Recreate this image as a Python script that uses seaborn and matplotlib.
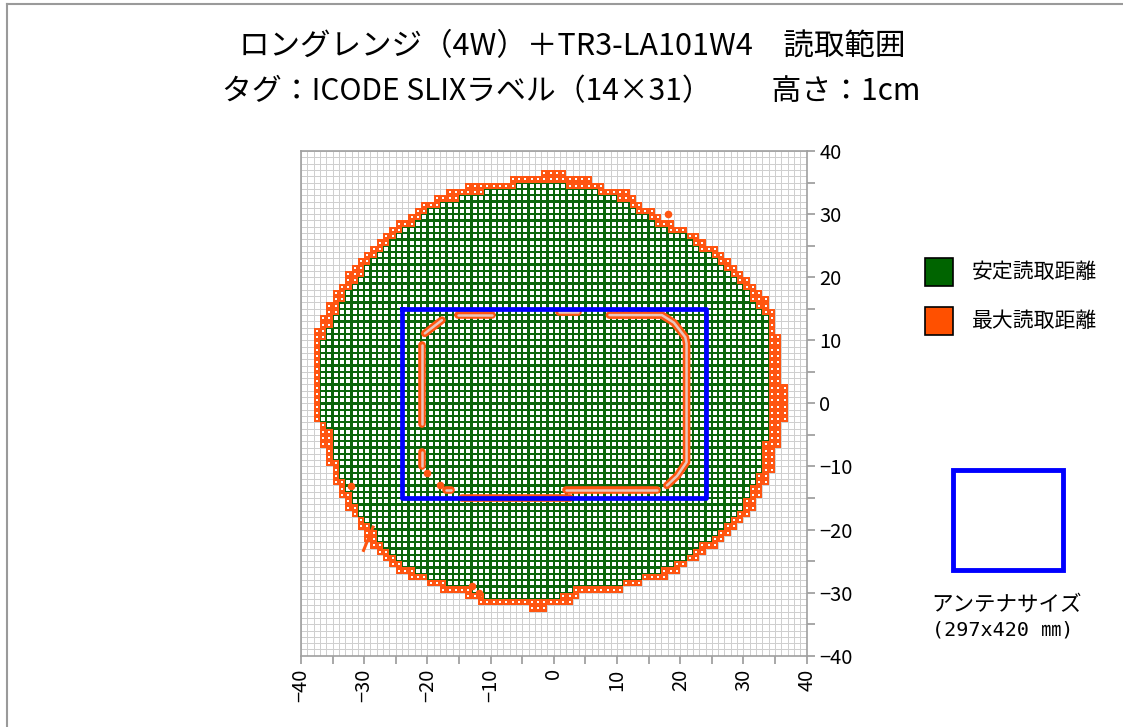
import numpy as np
import pandas as pd
import seaborn as sns
import matplotlib.pyplot as plt
from matplotlib.colors import ListedColormap
from matplotlib.patches import Rectangle
from matplotlib.lines import Line2D

plt.rcParams['font.family'] = ['Noto Sans CJK JP', 'DejaVu Sans']

# one row of grid cells per y (cell spans [y, y+1]); x edges of max (orange) and stable (green) range
row_y = list(range(36, -34, -1))
outer_left = [-2, -7, -14, -17, -19, -21, -22, -23, -25, -26, -27, -28, -29, -30, -31, -32, -33, -33,
              -34, -35, -35, -36, -36, -37, -37, -38, -38, -38, -38, -38, -38, -38, -38, -38, -38, -38,
              -38, -38, -38, -38, -37, -37, -37, -37, -36, -36, -36, -35, -35, -35, -34, -34, -33, -33,
              -32, -31, -31, -30, -30, -29, -28, -27, -26, -25, -23, -20, -18, -14, -12, -4]
green_left = [0, 0, -6, -11, -15, -18, -20, -21, -22, -24, -25, -26, -27, -28, -29, -30, -30, -31,
              -32, -33, -33, -34, -34, -35, -35, -36, -36, -37, -37, -37, -37, -37, -37, -37, -37, -37,
              -37, -37, -37, -37, -36, -35, -35, -35, -35, -35, -34, -34, -34, -33, -33, -32, -32, -31,
              -31, -30, -29, -28, -28, -27, -26, -25, -24, -22, -20, -17, -13, -11, 0, 0]
green_right = [0, 0, 2, 7, 10, 12, 13, 15, 16, 18, 21, 22, 23, 25, 26, 27, 28, 29,
               30, 31, 31, 32, 33, 34, 34, 34, 34, 34, 34, 34, 34, 34, 34, 34, 34, 34,
               34, 34, 34, 34, 34, 34, 34, 33, 33, 33, 33, 33, 32, 32, 31, 31, 30, 30,
               29, 28, 27, 26, 25, 23, 22, 21, 19, 17, 14, 11, 3, 1, 0, 0]
outer_right = [2, 6, 8, 12, 13, 14, 16, 17, 19, 21, 23, 24, 26, 27, 28, 29, 30, 31,
               32, 33, 34, 34, 35, 35, 35, 35, 36, 36, 36, 36, 36, 36, 36, 36, 37, 37,
               37, 37, 37, 37, 36, 36, 36, 36, 35, 35, 35, 35, 34, 34, 33, 33, 32, 32,
               31, 30, 29, 28, 27, 26, 24, 23, 21, 20, 18, 14, 11, 4, 3, -1]

# orange strokes inside the antenna (read holes)
hole_strokes = [
    ([-15.2, -9.8], [14.0, 14.0]),
    ([0.8, 3.8], [14.5, 14.5]),
    ([8.8, 17.1, 19.0, 20.8, 21.0, 21.0, 19.5, 17.9], [14.0, 14.0, 12.8, 10.5, 9.5, -9.3, -11.5, -13.0]),
    ([2.0, 16.3], [-13.8, -13.8]),
    ([-14.5, 2.6], [-15.0, -15.0]),
    ([-20.4, -17.7], [11.1, 13.2]),
    ([-20.9, -20.9], [9.3, -3.2]),
    ([-20.9, -20.9], [-7.7, -10.0]),
    ([-17.1, -16.2], [-13.8, -13.8]),
]
tail_x = [-30.1, -28.6]
tail_y = [-23.3, -19.6]
dot_x = [18.0, -32.1, -13.0, -11.9, -20.1, -18.0]
dot_y = [30.0, -13.1, -29.0, -30.0, -11.0, -13.0]

antenna_x = [-24, 24, 24, -24, -24]
antenna_y = [15, 15, -15, -15, 15]

ticks = list(range(-40, 41, 5))

green = '#0b650b'
orange = '#ff5511'
blue = '#0000ff'

zone = np.zeros((80, 80), dtype=int)
for y, ol, gl, gr, orr in zip(row_y, outer_left, green_left, green_right, outer_right):
    if orr > ol:
        zone[y + 40, ol + 40:orr + 40] = 2
    if gr > gl:
        zone[y + 40, gl + 40:gr + 40] = 1

cells = pd.DataFrame(np.zeros((80, 80)), index=range(-40, 40), columns=range(-40, 40))

fig = plt.figure(figsize=(11.23, 7.27), dpi=100)
ax = fig.add_axes([0.268, 0.098, 0.4503, 0.6942])

sns.heatmap(cells, ax=ax, cmap=ListedColormap(['white']), cbar=False, linewidths=0.7,
            linecolor='#cfcfcf', xticklabels=False, yticklabels=False)
sns.heatmap(cells, mask=zone != 1, ax=ax, cmap=ListedColormap([green]), cbar=False,
            linewidths=0, xticklabels=False, yticklabels=False)
sns.heatmap(cells, mask=zone != 2, ax=ax, cmap=ListedColormap([orange]), cbar=False,
            linewidths=0, xticklabels=False, yticklabels=False)

gy, gx = np.nonzero(zone == 1)
sns.scatterplot(x=gx + 0.5, y=gy + 0.5, marker='s', s=9, color='white', linewidth=0, ax=ax, legend=False)
oy, ox = np.nonzero(zone == 2)
sns.scatterplot(x=ox + 0.5, y=oy + 0.5, marker='s', s=4.5, color='white', linewidth=0, ax=ax, legend=False)

for xs, ys in hole_strokes:
    ax.plot(np.array(xs) + 40, np.array(ys) + 40, color=orange, lw=5.5, solid_capstyle='round')
    ax.plot(np.array(xs) + 40, np.array(ys) + 40, color='#e8c6bb', lw=1.8, solid_capstyle='round')
ax.plot(np.array(tail_x) + 40, np.array(tail_y) + 40, color=orange, lw=2.2)
sns.scatterplot(x=np.array(dot_x) + 40, y=np.array(dot_y) + 40, s=30, color=orange, linewidth=0,
                ax=ax, legend=False, zorder=3)

ax.plot(np.array(antenna_x) + 40, np.array(antenna_y) + 40, color=blue, lw=3.4, zorder=4)

ax.set_xlim(0, 80)
ax.set_ylim(0, 80)
ax.set_aspect('auto')

labels = [('\u2212' + str(-t) if t < 0 else str(t)) if t % 10 == 0 else '' for t in ticks]
ax.set_xticks([t + 40 for t in ticks])
ax.set_xticklabels(labels, rotation=90)
ax.set_yticks([t + 40 for t in ticks])
ax.set_yticklabels(labels, rotation=0)
ax.yaxis.tick_right()
ax.tick_params(axis='both', length=6, width=1.2, color='#999999', labelsize=14.5, labelcolor='black', pad=3)
ax.tick_params(axis='y', left=False, right=True, labelleft=False, labelright=True)
for s in ax.spines.values():
    s.set_visible(True)
    s.set_color('#a0a0a0')
    s.set_linewidth(1.2)

fig.text(0.5096, 0.9354, 'ロングレンジ（4W）＋TR3-LA101W4　読取範囲', ha='center', va='center', fontsize=22)
fig.text(0.5085, 0.8735, 'タグ：ICODE SLIXラベル（14×31）　　高さ：1cm', ha='center', va='center', fontsize=21.5)

fig.add_artist(Rectangle((0.8237, 0.6066), 0.0249, 0.0385, transform=fig.transFigure,
                         facecolor='#006400', edgecolor='black', lw=1.2))
fig.add_artist(Rectangle((0.8237, 0.5392), 0.0249, 0.0385, transform=fig.transFigure,
                         facecolor='#ff5000', edgecolor='black', lw=1.2))
fig.text(0.8655, 0.6259, '安定読取距離', ha='left', va='center', fontsize=15)
fig.text(0.8655, 0.5585, '最大読取距離', ha='left', va='center', fontsize=15)

fig.add_artist(Rectangle((0.8486, 0.216), 0.098, 0.1376, transform=fig.transFigure,
                         facecolor='none', edgecolor=blue, lw=3.5))
fig.text(0.8967, 0.1678, 'アンテナサイズ', ha='center', va='center', fontsize=15.5)
fig.text(0.893, 0.1334, '(297x420 ㎜)', ha='center', va='center', fontsize=14.5,
         family=['DejaVu Sans Mono', 'Noto Sans CJK JP'])

fig.add_artist(Line2D([7 / 1123, 7 / 1123], [0, 1 - 4 / 727], transform=fig.transFigure, color='#9a9a9a', lw=1.5))
fig.add_artist(Line2D([7 / 1123, 1], [1 - 4 / 727, 1 - 4 / 727], transform=fig.transFigure, color='#9a9a9a', lw=1.5))

plt.savefig('out.png', dpi=100)
